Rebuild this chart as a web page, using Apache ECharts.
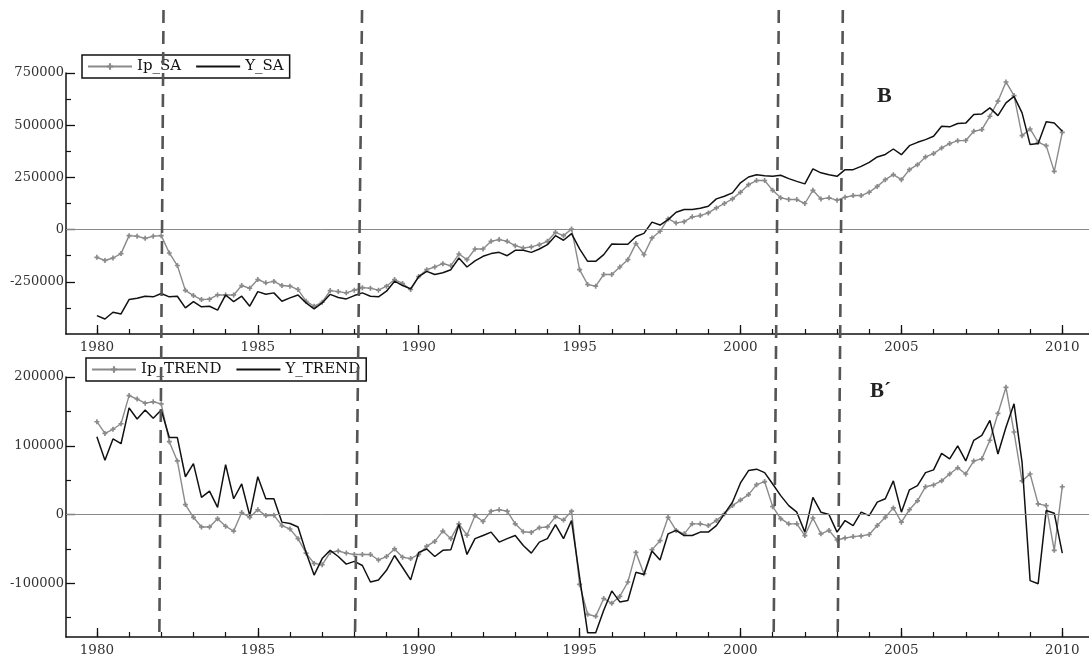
<!DOCTYPE html>
<html>
<head>
<meta charset="utf-8">
<title>Ip / Y: seasonally adjusted and trend components</title>
<script src="https://cdn.jsdelivr.net/npm/echarts@6/dist/echarts.min.js"></script>
<style>
  html, body { margin: 0; padding: 0; background: #fff; }
  #chart { width: 1089px; height: 664px; }
</style>
</head>
<body>
<div id="chart"></div>
<script>
// Quarterly observations, 1980Q1 .. 2010Q1
const START_YEAR = 1980;

const ipSA = [
  -133000, -148000, -136000, -115000,
  -29000, -32000, -42000, -32000,
  -29000, -112000, -172000, -291000,
  -316000, -335000, -333000, -313000,
  -313000, -313000, -268000, -281000,
  -239000, -255000, -248000, -268000,
  -271000, -287000, -343000, -367000,
  -348000, -292000, -297000, -303000,
  -290000, -278000, -281000, -290000,
  -271000, -239000, -258000, -287000,
  -225000, -192000, -179000, -163000,
  -173000, -117000, -144000, -93000,
  -93000, -56000, -48000, -56000,
  -77000, -88000, -83000, -72000,
  -56000, -13000, -29000, 3000,
  -192000, -263000, -271000, -215000,
  -215000, -179000, -144000, -67000,
  -120000, -40000, -8000, 51000,
  32000, 38000, 61000, 67000,
  80000, 104000, 125000, 147000,
  179000, 215000, 235000, 235000,
  188000, 152000, 144000, 144000,
  125000, 188000, 147000, 152000,
  141000, 155000, 163000, 163000,
  179000, 207000, 239000, 263000,
  239000, 287000, 311000, 348000,
  364000, 391000, 412000, 426000,
  427000, 471000, 479000, 543000,
  615000, 707000, 642000, 450000,
  482000, 418000, 402000, 279000,
  466000
];

const ySA = [
  -412000, -428000, -396000, -404000,
  -335000, -329000, -319000, -322000,
  -306000, -322000, -319000, -375000,
  -345000, -370000, -367000, -386000,
  -313000, -345000, -319000, -367000,
  -297000, -310000, -303000, -343000,
  -327000, -313000, -351000, -380000,
  -351000, -310000, -325000, -332000,
  -316000, -303000, -319000, -322000,
  -295000, -247000, -268000, -284000,
  -225000, -200000, -215000, -207000,
  -192000, -136000, -179000, -150000,
  -128000, -115000, -109000, -125000,
  -99000, -99000, -109000, -93000,
  -72000, -29000, -51000, -19000,
  -92000, -152000, -152000, -120000,
  -69000, -70000, -70000, -33000,
  -18000, 36000, 22000, 48000,
  83000, 96000, 96000, 102000,
  112000, 147000, 160000, 176000,
  224000, 252000, 263000, 258000,
  255000, 260000, 244000, 231000,
  219000, 291000, 272000, 263000,
  255000, 287000, 287000, 303000,
  322000, 348000, 360000, 386000,
  359000, 402000, 418000, 431000,
  447000, 495000, 492000, 508000,
  510000, 551000, 554000, 583000,
  546000, 607000, 638000, 559000,
  407000, 412000, 517000, 511000,
  471000
];

const ipTrend = [
  135000, 118000, 124000, 132000,
  173000, 168000, 162000, 164000,
  161000, 106000, 78000, 14500,
  -4000, -18000, -18000, -6000,
  -17000, -24000, 3000, -4000,
  7000, -1500, -1000, -16000,
  -21000, -35000, -56000, -71000,
  -73000, -55000, -53000, -56000,
  -58000, -58000, -58000, -66000,
  -61000, -50000, -62000, -64000,
  -58000, -46000, -39000, -24000,
  -35000, -13500, -30000, -1500,
  -10000, 5000, 7000, 5000,
  -13500, -25000, -26000, -19000,
  -18000, -3000, -8000, 5000,
  -101500, -145000, -148000, -122000,
  -129000, -119000, -98000, -55000,
  -86000, -51000, -38000, -4000,
  -23000, -28000, -13500, -13500,
  -16000, -8700, 1000, 13000,
  21000, 29000, 43500, 48000,
  11500, -6000, -13500, -13500,
  -30500, -5000, -28000, -23000,
  -37000, -34000, -32000, -31000,
  -29000, -16000, -4000, 9700,
  -11000, 7000, 20000, 40500,
  43000, 49000, 59000, 68000,
  59000, 78000, 81000, 108000,
  147000, 185000, 120000, 49000,
  59000, 15500, 13000, -52000,
  40500
];

const yTrend = [
  113000, 79000, 110000, 103000,
  155000, 139000, 152000, 140000,
  152000, 112000, 112000, 55000,
  74000, 25000, 34000, 10500,
  72500, 23000, 44500, -1500,
  55000, 23000, 23000, -11000,
  -13000, -18000, -55000, -88000,
  -64000, -52000, -61000, -72000,
  -68000, -74000, -98000, -95000,
  -81000, -59500, -77000, -95000,
  -55000, -50000, -61000, -52000,
  -51000, -14500, -58000, -35000,
  -30500, -25500, -40000, -35000,
  -30500, -45000, -56000, -40000,
  -35000, -14500, -35000, -8700,
  -91000, -172000, -172000, -139000,
  -111000, -127000, -125000, -84000,
  -87000, -53000, -66000, -28000,
  -23000, -30500, -30500, -25500,
  -25500, -16000, 1000, 18000,
  46000, 64000, 66000, 61000,
  44500, 27500, 13000, 3500,
  -25500, 25000, 3500, 0,
  -25500, -8700, -16000, 3500,
  -1500, 18000, 23000, 49000,
  3500, 36000, 42000, 61000,
  65000, 89000, 81000, 100000,
  78000, 108000, 115000, 137000,
  88000, 127000, 161000, 76000,
  -96000, -100500, 6000, 2000,
  -56000
];

// Axis tick labels
const yearLabels = [1980, 1985, 1990, 1995, 2000, 2005, 2010];
const yearTicks = [1980, 1981, 1982, 1983, 1984, 1985, 1986, 1987, 1988, 1989,
  1990, 1991, 1992, 1993, 1994, 1995, 1996, 1997, 1998, 1999,
  2000, 2001, 2002, 2003, 2004, 2005, 2006, 2007, 2008, 2009, 2010];
const saLabels = [-250000, 0, 250000, 500000, 750000];
const saMinor = [-375000, -125000, 125000, 375000, 625000];
const trendLabels = [-100000, 0, 100000, 200000];
const trendMinor = [-150000, -50000, 50000, 150000];

// Structural break dates (upper and lower ends of each hand-drawn divider)
const breakTop = [1982.07, 1988.24, 2001.19, 2003.18];
const breakBottom = [1981.94, 1988.02, 2001.03, 2003.02];

const X_MIN = 1979.04;
const X_MAX = 2010.83;

const toPairs = vals => vals.map((v, i) => [START_YEAR + i * 0.25, v]);

const SERIF = 'DejaVu Serif';
const PLUS = 'path://M2,0H4V2H6V4H4V6H2V4H0V2H2Z';
const GREY = '#8a8a8a';
const INK = '#111';

function mainX(grid) {
  return {
    type: 'value', gridIndex: grid, position: 'bottom', min: X_MIN, max: X_MAX,
    axisLine: { show: true, onZero: false, lineStyle: { color: INK, width: 1.5 } },
    axisTick: { show: true, inside: true, length: 9, customValues: yearLabels,
                lineStyle: { color: INK, width: 1.3 } },
    axisLabel: { customValues: yearLabels, margin: 6, color: '#333',
                 fontFamily: SERIF, fontSize: 13.5, formatter: v => String(v) },
    splitLine: { show: false }
  };
}
function minorX(grid) {
  return {
    type: 'value', gridIndex: grid, position: 'bottom', min: X_MIN, max: X_MAX,
    axisLine: { show: false, onZero: false },
    axisTick: { show: true, inside: true, length: 5, customValues: yearTicks,
                lineStyle: { color: INK, width: 1.2 } },
    axisLabel: { show: false },
    splitLine: { show: false }
  };
}
function mainY(grid, min, max, labels) {
  return {
    type: 'value', gridIndex: grid, position: 'left', min: min, max: max,
    axisLine: { show: true, onZero: false, lineStyle: { color: INK, width: 1.5 } },
    axisTick: { show: true, inside: true, length: 9, customValues: labels,
                lineStyle: { color: INK, width: 1.3 } },
    axisLabel: { customValues: labels, margin: 2, color: '#333',
                 fontFamily: SERIF, fontSize: 13, formatter: v => String(v) },
    splitLine: { show: false }
  };
}
function minorY(grid, min, max, ticks) {
  return {
    type: 'value', gridIndex: grid, position: 'left', min: min, max: max,
    axisLine: { show: false, onZero: false },
    axisTick: { show: true, inside: true, length: 5, customValues: ticks,
                lineStyle: { color: INK, width: 1.2 } },
    axisLabel: { show: false },
    splitLine: { show: false }
  };
}

const zeroLine = {
  silent: true, symbol: 'none', label: { show: false },
  lineStyle: { color: '#888', width: 1, type: 'solid' },
  data: [{ yAxis: 0 }]
};

function ipSeries(name, vals, xi, yi) {
  return {
    name: name, type: 'line', xAxisIndex: xi, yAxisIndex: yi,
    data: toPairs(vals), symbol: PLUS, symbolSize: 5, showAllSymbol: true,
    lineStyle: { color: GREY, width: 1.4 }, itemStyle: { color: GREY },
    z: 3
  };
}
function ySeries(name, vals, xi, yi) {
  return {
    name: name, type: 'line', xAxisIndex: xi, yAxisIndex: yi,
    data: toPairs(vals), symbol: 'none',
    lineStyle: { color: INK, width: 1.5 }, itemStyle: { color: INK },
    markLine: zeroLine, z: 4
  };
}

// Plain line key for the solid series (no marker dot)
const plainKey = name => ({ name: name, itemStyle: { color: 'rgba(0,0,0,0)', borderWidth: 0 } });

const legendBase = {
  orient: 'horizontal', borderColor: INK, borderWidth: 1.5,
  padding: [4, 6, 4, 5], itemWidth: 44, itemHeight: 8, itemGap: 14,
  textStyle: { fontFamily: SERIF, fontSize: 15, color: INK },
  selectedMode: false
};

const chart = echarts.init(document.getElementById('chart'), null, { renderer: 'canvas' });
chart.setOption({
  animation: false,
  backgroundColor: '#fff',
  title: [
    { text: 'B', left: 877, top: 85, padding: 0,
      textStyle: { fontFamily: 'Liberation Serif', fontWeight: 'bold', fontSize: 22, color: '#222' } },
    { text: 'B\u00B4', left: 870, top: 381, padding: 0,
      textStyle: { fontFamily: 'Liberation Serif', fontWeight: 'bold', fontSize: 21, color: '#222' } }
  ],
  legend: [
    Object.assign({}, legendBase, { data: ['Ip_SA', plainKey('Y_SA')], left: 82, top: 55 }),
    Object.assign({}, legendBase, { data: ['Ip_TREND', plainKey('Y_TREND')], left: 86, top: 358 })
  ],
  grid: [
    { left: 66, right: 0, top: 73, height: 261 },
    { left: 66, right: 0, top: 377, height: 260 },
    { left: 66, right: 0, top: 10, bottom: 24 }
  ],
  xAxis: [
    mainX(0), minorX(0), mainX(1), minorX(1),
    { type: 'value', gridIndex: 2, min: X_MIN, max: X_MAX, show: false }
  ],
  yAxis: [
    mainY(0, -500000, 750000, saLabels), minorY(0, -500000, 750000, saMinor),
    mainY(1, -178000, 200000, trendLabels), minorY(1, -178000, 200000, trendMinor),
    { type: 'value', gridIndex: 2, min: 0, max: 1, show: false }
  ],
  series: [
    ipSeries('Ip_SA', ipSA, 0, 0),
    ySeries('Y_SA', ySA, 0, 0),
    ipSeries('Ip_TREND', ipTrend, 2, 2),
    ySeries('Y_TREND', yTrend, 2, 2),
    {
      name: 'breaks', type: 'line', xAxisIndex: 4, yAxisIndex: 4, data: [],
      z: 10,
      markLine: {
        silent: true, symbol: 'none', label: { show: false },
        lineStyle: { color: '#555', width: 2.6, type: [13, 8] },
        data: breakTop.map((t, i) => [{ coord: [t, 1] }, { coord: [breakBottom[i], 0] }])
      }
    }
  ]
});
</script>
</body>
</html>
